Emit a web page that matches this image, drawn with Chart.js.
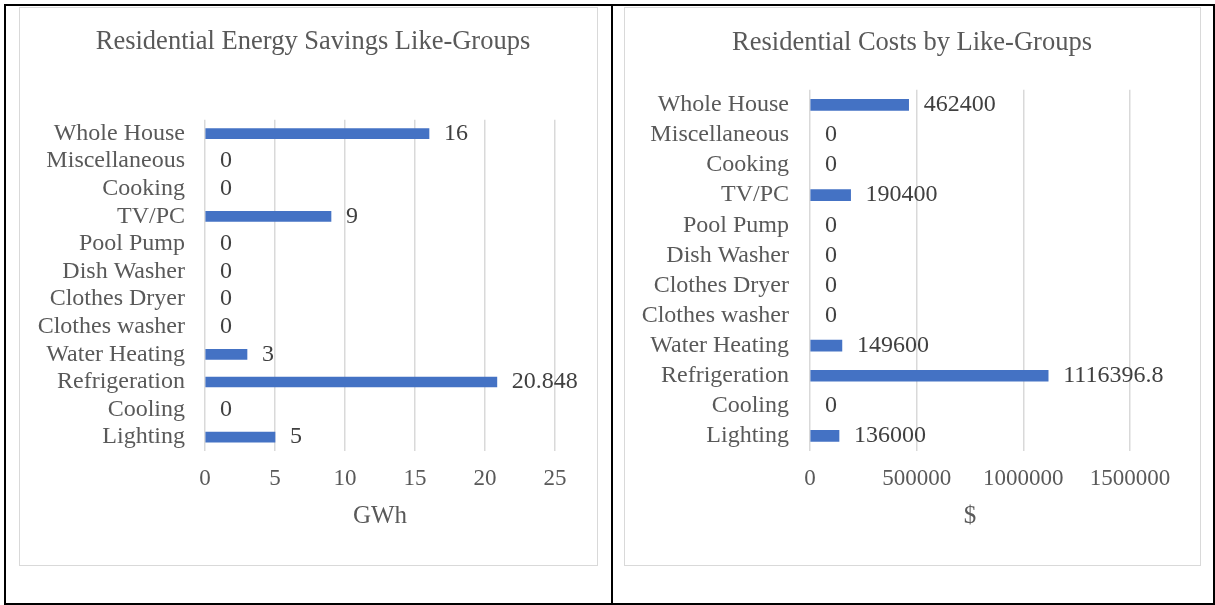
<!DOCTYPE html>
<html lang="en">
<head>
  <meta charset="UTF-8">
  <title>Residential Like-Groups</title>
  <script src="https://cdn.jsdelivr.net/npm/chart.js"></script>
  <style>
    body { margin: 0; background: #fff; width: 1215px; height: 605px; position: relative; overflow: hidden; }
    .cell { position: absolute; border: 2px solid #000; box-sizing: border-box; }
    .box { position: absolute; border: 1.5px solid #d9d9d9; box-sizing: border-box; }
    canvas { position: absolute; }
  </style>
</head>
<body>
  <!-- table cells -->
  <div class="cell" style="left:4px; top:4px; width:609px; height:601px;"></div>
  <div class="cell" style="left:611px; top:4px; width:604px; height:601px; border-left:none;"></div>

  <!-- chart frames -->
  <div class="box" style="left:19px; top:7px; width:579px; height:559px;"></div>
  <div class="box" style="left:624px; top:7px; width:577px; height:559px;"></div>

  <canvas id="energyChart" width="576" height="556" style="left:20px; top:8px;"></canvas>
  <canvas id="costChart" width="574" height="556" style="left:625px; top:8px;"></canvas>

  <script>
    // categories in Excel order (first one ends up at the bottom)
    const categories = ['Lighting', 'Cooling', 'Refrigeration', 'Water Heating', 'Clothes washer',
      'Clothes Dryer', 'Dish Washer', 'Pool Pump', 'TV/PC', 'Cooking', 'Miscellaneous', 'Whole House'];

    const energySavings = [5, 0, 20.848, 3, 0, 0, 0, 0, 9, 0, 0, 16];        // GWh
    const costs = [136000, 0, 1116396.8, 149600, 0, 0, 0, 0, 190400, 0, 0, 462400]; // $

    const energyTicks = [0, 5, 10, 15, 20, 25];
    const costTicks = [0, 500000, 1000000, 1500000];

    const serif = "'Liberation Serif', 'Times New Roman', serif";
    const textGrey = '#595959';

    // draws the value next to every bar
    const valueLabels = {
      id: 'valueLabels',
      afterDatasetsDraw(chart) {
        const ctx = chart.ctx;
        const meta = chart.getDatasetMeta(0);
        const values = chart.data.datasets[0].data;
        ctx.save();
        ctx.font = '24px ' + serif;
        ctx.fillStyle = '#404040';
        ctx.textBaseline = 'middle';
        ctx.textAlign = 'left';
        meta.data.forEach(function(bar, i) {
          ctx.fillText(String(values[i]), bar.x + 15, bar.y);
        });
        ctx.restore();
      }
    };

    // Excel centres the title on the whole chart frame, not on the padded area
    const centerTitle = {
      id: 'centerTitle',
      afterLayout(chart, args, options) {
        const shift = options.shift || 0;
        if (chart.titleBlock) {
          chart.titleBlock.left = shift;
          chart.titleBlock.right = chart.width + shift;
        }
      }
    };

    function makeChart(id, title, values, ticks, axisTitle, opts) {
      return new Chart(document.getElementById(id), {
        type: 'bar',
        data: {
          labels: categories,
          datasets: [{
            data: values,
            backgroundColor: function(c) { return c.raw === 0 ? 'rgba(0,0,0,0)' : '#4472C4'; },
            barThickness: opts.barThickness
          }]
        },
        options: {
          indexAxis: 'y',
          responsive: false,
          animation: false,
          layout: { padding: { left: 0, right: opts.padRight, top: 0, bottom: opts.padBottom } },
          plugins: {
            legend: { display: false },
            tooltip: { enabled: false },
            centerTitle: { shift: opts.titleShift },
            title: {
              display: true,
              text: title,
              color: textGrey,
              font: { family: serif, size: 26.5, weight: 'normal' },
              padding: { top: opts.titleTop, bottom: opts.titleBottom }
            }
          },
          scales: {
            x: {
              min: ticks[0],
              max: ticks[ticks.length - 1],
              afterBuildTicks: function(scale) {
                scale.ticks = ticks.map(function(v) { return { value: v }; });
              },
              afterFit: function(scale) { scale.height = 80; },
              grid: { color: '#d9d9d9', lineWidth: 1.5, drawTicks: false },
              border: { display: false },
              ticks: {
                color: textGrey,
                padding: 14,
                font: { family: serif, size: 23 },
                callback: function(v) { return String(v); }
              },
              title: {
                display: true,
                text: axisTitle,
                color: textGrey,
                padding: 0,
                font: { family: serif, size: 25 }
              }
            },
            y: {
              reverse: true,
              afterFit: function(scale) { scale.width = 185; },
              grid: { display: false, drawTicks: false },
              border: { display: false },
              ticks: {
                color: textGrey,
                padding: opts.labelPad,
                autoSkip: false,
                font: { family: serif, size: 24 }
              }
            }
          }
        },
        plugins: [valueLabels, centerTitle]
      });
    }

    makeChart('energyChart', 'Residential Energy Savings Like-Groups', energySavings, energyTicks, 'GWh',
      { padRight: 41, padBottom: 33, titleTop: 18, titleBottom: 62, titleShift: 5, labelPad: 20, barThickness: 10 });

    makeChart('costChart', 'Residential Costs by Like-Groups', costs, costTicks, '$',
      { padRight: 69, padBottom: 33, titleTop: 19, titleBottom: 31, titleShift: 0, labelPad: 21, barThickness: 11 });
  </script>
</body>
</html>
